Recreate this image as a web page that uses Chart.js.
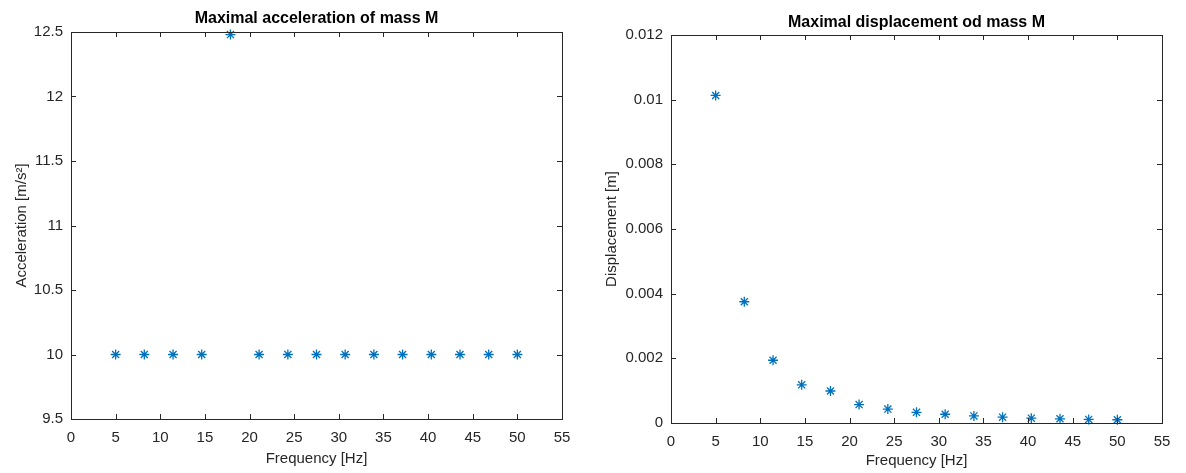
<!DOCTYPE html>
<html>
<head>
<meta charset="utf-8">
<script src="https://cdn.jsdelivr.net/npm/chart.js@4/dist/chart.umd.min.js"></script>
<style>
  body { margin: 0; background: #fff; }
  .panel { position: absolute; top: 0; height: 473px; }
</style>
</head>
<body>
<div class="panel" style="left:0;width:590px"><canvas id="acc"></canvas></div>
<div class="panel" style="left:590px;width:596px"><canvas id="disp"></canvas></div>
<script>
// frequencies of the simulation runs (Hz)
const freq = [5, 8.21, 11.43, 14.64, 17.86, 21.07, 24.29, 27.5, 30.71, 33.93, 37.14, 40.36, 43.57, 46.79, 50];
// max acceleration of mass M (m/s^2)
const accel = [10, 10, 10, 10, 12.48, 10, 10, 10, 10, 10, 10, 10, 10, 10, 10];
// max displacement of mass M (m)
const displ = [0.01013, 0.00375, 0.00194, 0.00118, 0.00099, 0.00057, 0.00043, 0.00033, 0.00027, 0.00022, 0.00018, 0.00015, 0.00013, 0.00011, 0.0001];

const freqTicks = [0, 5, 10, 15, 20, 25, 30, 35, 40, 45, 50, 55];
const accTicks = [9.5, 10, 10.5, 11, 11.5, 12, 12.5];
const dispTicks = [0, 0.002, 0.004, 0.006, 0.008, 0.01, 0.012];

const BLUE = "#0072BD";
const AXIS = "#262626";
const FONT = "'Liberation Sans', Arial, sans-serif";

// MATLAB-like box with inward tick marks on all four sides,
// plus the title centred over the plot box rather than the canvas
const boxPlugin = {
  id: "box",
  afterDraw(chart, args, opts) {
    const { ctx, chartArea: a, scales: { x, y } } = chart;
    ctx.save();
    ctx.strokeStyle = AXIS;
    ctx.lineWidth = 1;
    ctx.strokeRect(Math.round(a.left) + 0.5, Math.round(a.top) + 0.5,
                   Math.round(a.right - a.left), Math.round(a.bottom - a.top));
    ctx.beginPath();
    x.ticks.forEach(t => {
      const px = Math.round(x.getPixelForValue(t.value)) + 0.5;
      ctx.moveTo(px, a.bottom); ctx.lineTo(px, a.bottom - 5);
      ctx.moveTo(px, a.top); ctx.lineTo(px, a.top + 5);
    });
    y.ticks.forEach(t => {
      const py = Math.round(y.getPixelForValue(t.value)) + 0.5;
      ctx.moveTo(a.left, py); ctx.lineTo(a.left + 5, py);
      ctx.moveTo(a.right, py); ctx.lineTo(a.right - 5, py);
    });
    ctx.stroke();

    ctx.fillStyle = "#000";
    ctx.font = "bold 16px " + FONT;
    ctx.textAlign = "center";
    ctx.textBaseline = "middle";
    ctx.fillText(opts.text, (a.left + a.right) / 2, a.top - opts.gap);
    ctx.restore();
  }
};

function makeChart(id, values, yTicks, yTitle, title, opts) {
  return new Chart(document.getElementById(id), {
    type: "scatter",
    data: {
      datasets: [{
        data: freq.map((f, i) => ({ x: f, y: values[i] })),
        pointStyle: "star",
        radius: 5,
        borderWidth: 1.3,
        borderColor: BLUE,
        backgroundColor: BLUE,
        showLine: false,
        clip: false
      }]
    },
    options: {
      responsive: true,
      maintainAspectRatio: false,
      animation: false,
      layout: { padding: { left: 0, right: opts.right, top: opts.top, bottom: 0 } },
      plugins: {
        legend: { display: false },
        tooltip: { enabled: false },
        title: { display: false },
        box: { text: title, gap: opts.gap }
      },
      scales: {
        x: {
          type: "linear",
          min: freqTicks[0],
          max: freqTicks[freqTicks.length - 1],
          afterBuildTicks: s => { s.ticks = freqTicks.map(v => ({ value: v })); },
          grid: { display: false, drawTicks: false },
          border: { display: false },
          ticks: { color: AXIS, padding: opts.xTickPad, font: { family: FONT, size: 15 } },
          title: {
            display: true, text: "Frequency [Hz]", color: AXIS,
            font: { family: FONT, size: 15 }, padding: { top: 0, bottom: opts.xTitleBottom }
          },
          afterFit: s => { s.height = opts.xHeight; }
        },
        y: {
          type: "linear",
          min: yTicks[0],
          max: yTicks[yTicks.length - 1],
          afterBuildTicks: s => { s.ticks = yTicks.map(v => ({ value: v })); },
          grid: { display: false, drawTicks: false },
          border: { display: false },
          ticks: {
            color: AXIS, padding: 8, font: { family: FONT, size: 15 },
            callback: v => String(+v.toFixed(4))
          },
          title: {
            display: true, text: yTitle, color: AXIS,
            font: { family: FONT, size: 15 }, padding: { top: opts.yTitleTop, bottom: 0 }
          },
          afterFit: s => { s.width = opts.yWidth; }
        }
      }
    },
    plugins: [boxPlugin]
  });
}

makeChart("acc", accel, accTicks, "Acceleration [m/s\u00B2]", "Maximal acceleration of mass M",
  { right: 28, top: 32, gap: 13, xHeight: 54, xTickPad: 10, xTitleBottom: 5, yWidth: 71, yTitleTop: 13 });
makeChart("disp", displ, dispTicks, "Displacement [m]", "Maximal displacement od mass M",
  { right: 24, top: 35, gap: 12, xHeight: 50, xTickPad: 10, xTitleBottom: 3, yWidth: 81, yTitleTop: 13 });
</script>
</body>
</html>
